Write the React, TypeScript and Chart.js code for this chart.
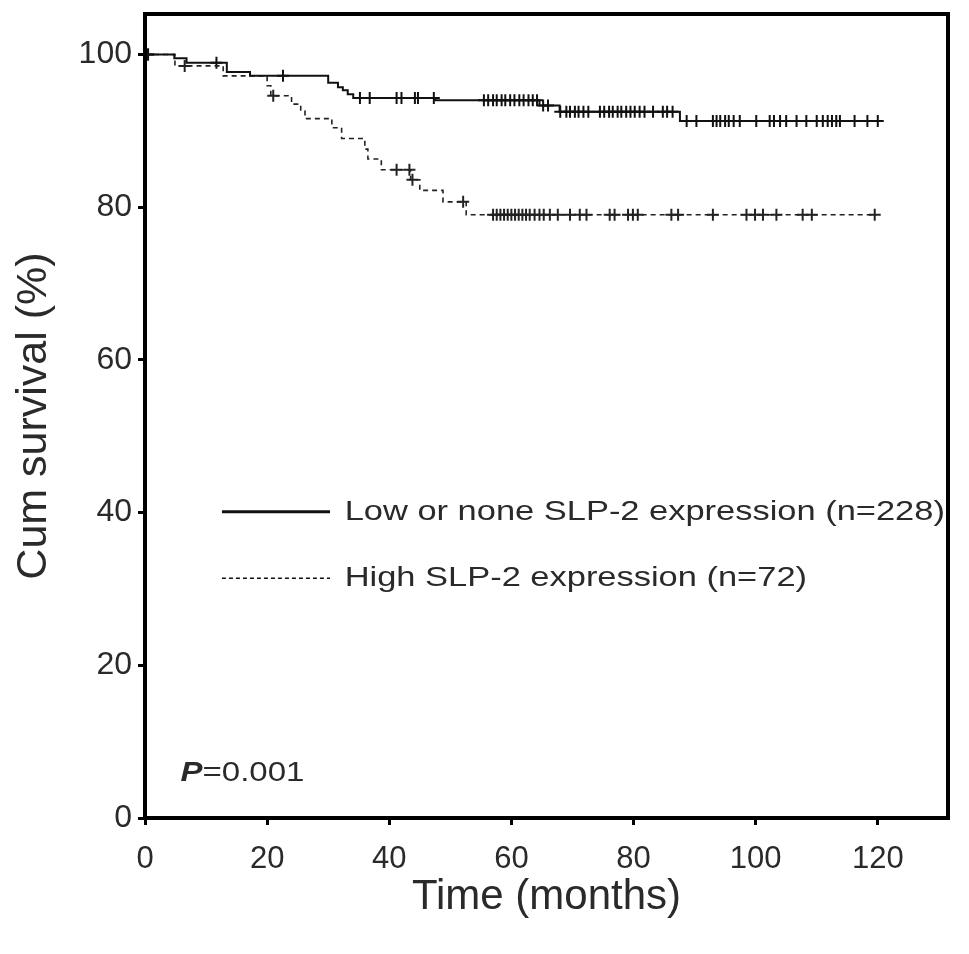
import React, { useEffect, useRef } from "react";
import { Chart, registerables } from "chart.js";

Chart.register(...registerables);

const FONT = '"Liberation Sans", Arial, Helvetica, sans-serif';

const xTicks = [0, 20, 40, 60, 80, 100, 120];
const yTicks = [0, 20, 40, 60, 80, 100];

const lowLabel = "Low or none SLP-2 expression (n=228)";
const highLabel = "High SLP-2 expression (n=72)";
const pLabel = "0.001";

// Kaplan–Meier step points: time (months) and cumulative survival (%)
const lowTimes = [0, 4.8, 6.8, 13.4, 17.2, 30.0, 31.6, 32.4, 33.2, 34.1, 47.5, 64.6, 67.9, 87.6, 120.0];
const lowSurv = [100, 99.5, 98.9, 97.7, 97.2, 96.3, 95.7, 95.3, 94.8, 94.3, 94.0, 93.3, 92.5, 91.3, 91.3];

const highTimes = [0, 4.9, 12.8, 20.0, 20.6, 24.0, 25.5, 26.2, 30.6, 32.2, 36.0, 36.5, 38.7, 43.5, 45.0, 48.8, 52.6, 119.5];
const highSurv = [100, 98.5, 97.2, 95.9, 94.6, 93.5, 92.6, 91.6, 90.4, 89.0, 87.6, 86.3, 84.9, 83.6, 82.2, 80.7, 79.0, 79.0];

// Censored observations (months)
const lowCensor = [
  0.5, 11.7, 22.6, 35.2, 36.8, 41.2, 42.0, 44.2, 44.7, 47.3, 55.5, 56.2, 57.0, 57.6, 58.4, 59.0, 59.8,
  60.5, 61.3, 62.0, 62.8, 63.5, 64.2, 65.2, 66.0, 68.0, 69.0, 69.6, 70.4, 71.0, 71.8, 72.6, 74.5, 75.2,
  76.0, 76.6, 77.4, 78.0, 78.8, 79.5, 80.2, 81.0, 81.8, 83.2, 84.8, 85.5, 86.4, 88.7, 90.3, 93.0, 93.6,
  94.2, 95.0, 95.6, 96.4, 97.4, 100.1, 102.3, 103.0, 104.0, 105.0, 106.7, 108.3, 110.0, 111.0, 111.8,
  112.5, 113.2, 113.8, 116.2, 118.3, 120.0,
];
const highCensor = [
  0.5, 6.5, 21.0, 41.2, 43.3, 43.8, 52.1, 57.0, 57.6, 58.2, 58.8, 59.4, 60.0, 60.6, 61.2, 61.8, 62.4,
  63.0, 63.8, 64.6, 65.3, 66.3, 67.6, 69.6, 71.2, 72.3, 76.1, 76.9, 79.1, 79.9, 80.7, 86.2, 87.3, 93.0,
  98.5, 99.9, 101.2, 103.4, 107.7, 109.2, 119.5,
];

function survivalAt(times: number[], surv: number[], t: number): number {
  let v = surv[0];
  for (let i = 0; i < times.length; i++) {
    if (times[i] <= t) v = surv[i];
  }
  return v;
}

const overlayPlugin = {
  id: "kmOverlay",
  afterDatasetsDraw(chart: any) {
    const { ctx, chartArea, scales } = chart;
    const x = scales.x;
    const y = scales.y;
    ctx.save();
    // frame
    ctx.strokeStyle = "#000";
    ctx.lineWidth = 4;
    ctx.setLineDash([]);
    ctx.strokeRect(chartArea.left, chartArea.top, chartArea.right - chartArea.left, chartArea.bottom - chartArea.top);

    // legend
    const lx0 = x.getPixelForValue(12.6);
    const lx1 = x.getPixelForValue(30.3);
    const tx = x.getPixelForValue(32.7);
    const ly1 = y.getPixelForValue(40.1);
    const ly2 = y.getPixelForValue(31.4);
    ctx.strokeStyle = "#111";
    ctx.lineWidth = 3;
    ctx.beginPath();
    ctx.moveTo(lx0, ly1);
    ctx.lineTo(lx1, ly1);
    ctx.stroke();
    ctx.lineWidth = 1.6;
    ctx.setLineDash([4, 3]);
    ctx.beginPath();
    ctx.moveTo(lx0, ly2);
    ctx.lineTo(lx1, ly2);
    ctx.stroke();
    ctx.setLineDash([]);

    const sx = 1.23;
    ctx.fillStyle = "#2a2a2a";
    ctx.textBaseline = "middle";
    ctx.textAlign = "left";
    ctx.font = `28px ${FONT}`;
    ctx.save();
    ctx.translate(tx, ly1);
    ctx.scale(sx, 1);
    ctx.fillText(lowLabel, 0, 0);
    ctx.restore();
    ctx.save();
    ctx.translate(tx, ly2);
    ctx.scale(sx, 1);
    ctx.fillText(highLabel, 0, 0);
    ctx.restore();

    // P value
    const px = x.getPixelForValue(5.8);
    const py = y.getPixelForValue(5.9);
    ctx.save();
    ctx.translate(px, py);
    ctx.scale(1.18, 1);
    ctx.font = `italic bold 28px ${FONT}`;
    ctx.fillText("P", 0, 0);
    const w = ctx.measureText("P").width;
    ctx.font = `28px ${FONT}`;
    ctx.fillText("=" + pLabel, w, 0);
    ctx.restore();

    ctx.restore();
  },
};

export default function App() {
  const canvasRef = useRef<HTMLCanvasElement | null>(null);

  useEffect(() => {
    if (!canvasRef.current) return;
    const lowLine = lowTimes.map((t, i) => ({ x: t, y: lowSurv[i] }));
    const highLine = highTimes.map((t, i) => ({ x: t, y: highSurv[i] }));
    const lowMarks = lowCensor.map((t) => ({ x: t, y: survivalAt(lowTimes, lowSurv, t) }));
    const highMarks = highCensor.map((t) => ({ x: t, y: survivalAt(highTimes, highSurv, t) }));

    const chart = new Chart(canvasRef.current, {
      type: "line",
      data: {
        datasets: [
          {
            label: lowLabel,
            data: lowLine,
            stepped: true,
            borderColor: "#111",
            borderWidth: 2,
            pointRadius: 0,
            fill: false,
          },
          {
            label: highLabel,
            data: highLine,
            stepped: true,
            borderColor: "#222",
            borderWidth: 1.6,
            borderDash: [5, 4],
            pointRadius: 0,
            fill: false,
          },
          {
            label: "low censored",
            data: lowMarks,
            showLine: false,
            pointStyle: "cross",
            pointRadius: 6,
            pointBorderWidth: 2,
            pointBorderColor: "#111",
            borderColor: "#111",
          },
          {
            label: "high censored",
            data: highMarks,
            showLine: false,
            pointStyle: "cross",
            pointRadius: 6,
            pointBorderWidth: 2,
            pointBorderColor: "#222",
            borderColor: "#222",
          },
        ],
      },
      options: {
        animation: false,
        responsive: true,
        maintainAspectRatio: false,
        parsing: true,
        layout: { padding: { left: 0, top: 14, right: 21, bottom: 0 } },
        plugins: {
          legend: { display: false },
          tooltip: { enabled: false },
        },
        scales: {
          x: {
            type: "linear",
            min: 0,
            max: 131.5,
            afterBuildTicks: (s: any) => {
              s.ticks = xTicks.map((v) => ({ value: v }));
            },
            afterFit: (s: any) => {
              s.height = 136;
              s.paddingLeft = 0;
              s.paddingRight = 0;
            },
            grid: {
              display: true,
              drawOnChartArea: false,
              drawTicks: true,
              tickLength: 7,
              tickWidth: 3,
              tickColor: "#000",
            },
            border: { display: false },
            ticks: {
              font: { size: 31, family: FONT },
              color: "#2a2a2a",
              padding: 16,
              maxRotation: 0,
              autoSkip: false,
            },
            title: {
              display: true,
              text: "Time (months)",
              font: { size: 42, family: FONT },
              color: "#2a2a2a",
              padding: { top: 0, bottom: 31 },
            },
          },
          y: {
            type: "linear",
            min: 0,
            max: 105.3,
            afterBuildTicks: (s: any) => {
              s.ticks = yTicks.map((v) => ({ value: v }));
            },
            afterFit: (s: any) => {
              s.width = 145;
              s.paddingTop = 0;
              s.paddingBottom = 0;
            },
            grid: {
              display: true,
              drawOnChartArea: false,
              drawTicks: true,
              tickLength: 7,
              tickWidth: 3,
              tickColor: "#000",
            },
            border: { display: false },
            ticks: {
              font: { size: 32, family: FONT },
              color: "#2a2a2a",
              padding: 6,
            },
            title: {
              display: true,
              text: "Cum survival (%)",
              font: { size: 43, family: FONT },
              color: "#2a2a2a",
              padding: { top: 8, bottom: 0 },
            },
          },
        },
      },
      plugins: [overlayPlugin],
    });

    return () => {
      chart.destroy();
    };
  }, []);

  return (
    <div style={{ position: "absolute", left: 0, top: 0, width: 969, height: 954, background: "#fff" }}>
      <canvas ref={canvasRef} />
    </div>
  );
}
